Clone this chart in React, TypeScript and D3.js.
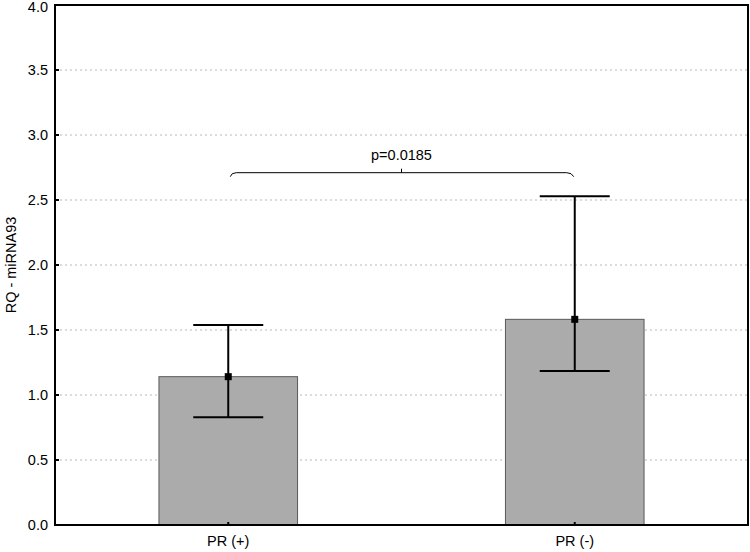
import React from "react";
import * as d3 from "d3";

const categories = ["PR (+)", "PR (-)"];
const means = [1.141, 1.582];
const upper = [1.538, 2.528];
const lower = [0.828, 1.185];
const yTicks = [0, 0.5, 1, 1.5, 2, 2.5, 3, 3.5, 4];
const pLabel = "p=0.0185";
const bracketY = 2.71;

export default function App() {
  const W = 750, H = 552;
  const left = 55, right = 748, top = 5, bottom = 525;
  const x = d3.scaleBand().domain(categories).range([left, right]).paddingInner(0.6).paddingOuter(0.3);
  const y = d3.scaleLinear().domain([0, 4]).range([bottom, top]);
  const font = "'Liberation Sans', Arial, sans-serif";
  const cx = (c: string) => (x(c) as number) + x.bandwidth() / 2;
  const x0 = cx(categories[0]);
  const x1 = cx(categories[1]);
  const by = y(bracketY);
  const mid = (x0 + x1) / 2;
  return (
    <svg width={W} height={H} style={{ position: "absolute", left: 0, top: 0, background: "#fff" }} fontFamily={font}>
      {yTicks.filter(t => t > 0 && t < 4).map(t => (
        <line key={t} x1={left} x2={right} y1={y(t)} y2={y(t)} stroke="#b8b8b8" strokeWidth={1} strokeDasharray="2,3" />
      ))}
      {categories.map((c, i) => (
        <g key={c}>
          <rect x={x(c)} y={y(means[i])} width={x.bandwidth()} height={y(0) - y(means[i])} fill="#ababab" stroke="#5a5a5a" strokeWidth={1} />
          <line x1={cx(c)} x2={cx(c)} y1={y(upper[i])} y2={y(lower[i])} stroke="#000" strokeWidth={2} />
          <line x1={cx(c) - 35} x2={cx(c) + 35} y1={y(upper[i])} y2={y(upper[i])} stroke="#000" strokeWidth={2} />
          <line x1={cx(c) - 35} x2={cx(c) + 35} y1={y(lower[i])} y2={y(lower[i])} stroke="#000" strokeWidth={2} />
          <rect x={cx(c) - 3.5} y={y(means[i]) - 3.5} width={7} height={7} fill="#000" />
          <line x1={cx(c)} x2={cx(c)} y1={bottom} y2={bottom - 3} stroke="#000" strokeWidth={2} />
          <text x={cx(c)} y={546} textAnchor="middle" fontSize={14.5} fill="#000">{c}</text>
        </g>
      ))}
      <path d={`M${x0 + 2},${by + 4} Q${x0 + 3},${by} ${x0 + 8},${by} L${x1 - 8},${by} Q${x1 - 3},${by} ${x1 - 1},${by + 4}`} fill="none" stroke="#000" strokeWidth={1} />
      <line x1={mid} x2={mid} y1={by} y2={by - 4} stroke="#000" strokeWidth={1} />
      <text x={mid} y={by - 13} textAnchor="middle" fontSize={14.5} fill="#000">{pLabel}</text>
      <rect x={left} y={top} width={right - left} height={bottom - top} fill="none" stroke="#000" strokeWidth={2} />
      {yTicks.map(t => (
        <g key={t}>
          <line x1={left} x2={left + 4} y1={y(t)} y2={y(t)} stroke="#000" strokeWidth={2} />
          <text x={left - 7} y={Math.max(y(t), 7)} dy="0.35em" textAnchor="end" fontSize={14.5} fill="#000">{t.toFixed(1)}</text>
        </g>
      ))}
      <text transform={`translate(11,${(top + bottom) / 2}) rotate(-90)`} dy="0.35em" textAnchor="middle" fontSize={14.5} fill="#000">RQ - miRNA93</text>
    </svg>
  );
}
